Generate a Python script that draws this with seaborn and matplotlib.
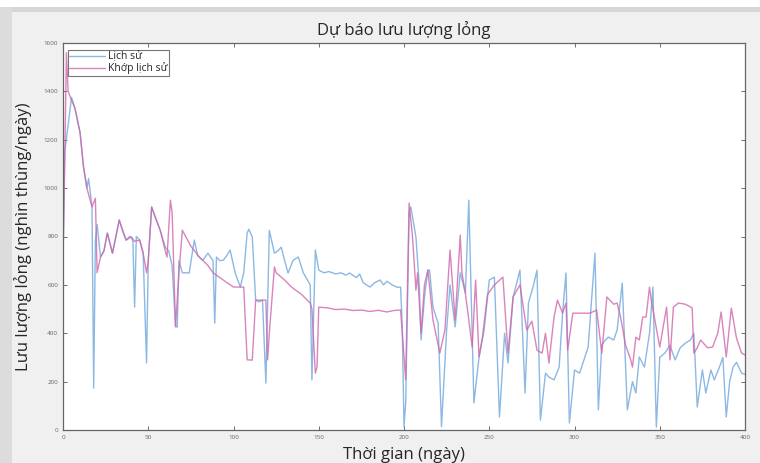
import matplotlib
matplotlib.use("Agg")
import matplotlib.pyplot as plt
from matplotlib.patches import Rectangle
import pandas as pd
import seaborn as sns

# Lịch sử (history) - breakpoints
hist_days = [0, 1, 3, 5, 7, 10, 12, 14, 15, 17, 18, 19, 20, 22, 24, 26, 28, 29, 31, 33,
             35, 37, 39, 40, 41, 42, 43, 45, 47, 49, 50, 52, 54, 57, 60, 62, 64, 66, 67, 68,
             70, 72, 74, 77, 79, 82, 85, 88, 89, 90, 92, 94, 96, 98, 101, 104, 106, 108, 109, 111,
             113, 115, 117, 119, 121, 124, 126, 128, 130, 132, 135, 138, 141, 145, 146, 148, 150, 153, 156, 160,
             163, 166, 168, 170, 172, 174, 176, 178, 180, 183, 186, 188, 190, 193, 196, 198, 199, 200, 201, 203,
             204, 207, 209, 210, 212, 214, 215, 217, 220, 222, 225, 227, 230, 233, 236, 238, 241, 244, 247, 250,
             253, 256, 259, 261, 264, 268, 271, 273, 276, 278, 280, 283, 285, 288, 291, 293, 295, 297, 300, 303,
             306, 308, 312, 314, 316, 318, 320, 323, 325, 328, 331, 334, 336, 338, 341, 344, 346, 348, 350, 353,
             356, 359, 362, 365, 368, 370, 372, 375, 377, 380, 382, 385, 387, 389, 391, 393, 395, 398, 400]
hist_vals = [700, 1150, 1260, 1375, 1330, 1230, 1090, 1000, 1040, 922, 173, 785, 850, 715, 740, 814, 760, 731, 800, 868,
             820, 785, 800, 798, 780, 508, 800, 785, 731, 277, 700, 922, 880, 826, 756, 740, 680, 430, 425, 700,
             650, 650, 649, 785, 720, 702, 731, 700, 442, 715, 700, 702, 720, 744, 649, 591, 650, 814, 830, 798,
             537, 530, 537, 194, 826, 731, 740, 756, 700, 649, 702, 715, 649, 600, 207, 744, 661, 650, 655, 645,
             650, 640, 649, 640, 630, 645, 610, 600, 591, 610, 620, 600, 615, 600, 590, 591, 420, 14, 112, 900,
             922, 798, 591, 372, 550, 661, 661, 508, 442, 14, 413, 600, 426, 650, 566, 950, 112, 300, 413, 620,
             632, 54, 400, 277, 550, 661, 153, 525, 600, 661, 41, 235, 219, 207, 260, 483, 649, 29, 248, 235,
             300, 343, 731, 83, 350, 372, 384, 372, 413, 607, 83, 200, 153, 302, 260, 400, 591, 12, 300, 318,
             350, 290, 340, 359, 372, 400, 95, 248, 153, 248, 207, 260, 300, 54, 200, 260, 280, 235, 230]

# Khớp lịch sử (history match)
fit_days = [0, 1, 2, 3, 5, 7, 10, 12, 14, 17, 18, 19, 20, 22, 24, 26, 29, 33, 37, 40,
            42, 45, 47, 49, 50, 52, 57, 60, 61, 63, 64, 66, 68, 70, 75, 80, 85, 88, 92, 96,
            100, 104, 106, 108, 111, 113, 117, 119, 120, 121, 124, 125, 130, 134, 140, 145, 146, 148, 149, 150,
            155, 160, 165, 170, 175, 180, 185, 190, 194, 198, 200, 201, 203, 205, 207, 208, 210, 212, 214, 217,
            221, 224, 227, 230, 233, 234, 236, 240, 242, 244, 246, 249, 253, 258, 261, 264, 268, 272, 275, 278,
            281, 283, 285, 288, 290, 293, 295, 296, 299, 303, 306, 309, 313, 316, 319, 323, 325, 327, 330, 333,
            334, 336, 338, 340, 342, 344, 345, 350, 354, 356, 358, 361, 365, 369, 370, 372, 374, 378, 381, 384,
            386, 389, 392, 395, 398, 400]
fit_vals = [700, 1100, 1560, 1400, 1364, 1330, 1230, 1090, 1000, 922, 940, 958, 650, 715, 740, 814, 731, 868, 785, 798,
            780, 785, 731, 650, 700, 922, 826, 740, 715, 950, 900, 426, 650, 826, 760, 715, 680, 650, 630, 610,
            591, 591, 591, 290, 289, 537, 537, 537, 290, 400, 674, 650, 620, 591, 560, 525, 500, 235, 260, 508,
            505, 498, 500, 494, 496, 490, 495, 488, 494, 496, 300, 207, 938, 799, 578, 649, 400, 600, 661, 455,
            318, 413, 744, 455, 806, 649, 566, 343, 620, 302, 384, 560, 600, 632, 318, 550, 600, 413, 450, 330,
            318, 400, 277, 467, 537, 483, 525, 330, 483, 483, 483, 483, 496, 318, 550, 520, 525, 467, 350, 290,
            260, 384, 372, 467, 467, 591, 537, 343, 508, 290, 508, 525, 520, 505, 318, 340, 372, 340, 343, 400,
            488, 302, 504, 380, 318, 310]

title = "Dự báo lưu lượng lỏng"
xlabel = "Thời gian (ngày)"
ylabel = "Lưu lượng lỏng (nghìn thùng/ngày)"
x_ticks = [0, 50, 100, 150, 200, 250, 300, 350, 400]
y_ticks = [0, 200, 400, 600, 800, 1000, 1200, 1400, 1600]

hist_df = pd.DataFrame({"day": hist_days, "value": hist_vals})
fit_df = pd.DataFrame({"day": fit_days, "value": fit_vals})

sns.set_style("ticks")
plt.rcParams["font.family"] = ["Open Sans", "DejaVu Sans"]

fig = plt.figure(figsize=(7.6, 4.63), dpi=100, facecolor="#f0f0f0")
# window frame strips (behind everything)
fig.patches.append(Rectangle((0, 1 - 7 / 463), 1, 7 / 463, transform=fig.transFigure,
                             facecolor="white", edgecolor="none", zorder=-5))
fig.patches.append(Rectangle((0, 1 - 12 / 463), 1, 5 / 463, transform=fig.transFigure,
                             facecolor="#d6d6d6", edgecolor="none", zorder=-5))
fig.patches.append(Rectangle((0, 0), 12 / 760, 1 - 7 / 463, transform=fig.transFigure,
                             facecolor="#dcdcdc", edgecolor="none", zorder=-5))

ax = fig.add_axes([63 / 760, 33 / 463, 682 / 760, 387 / 463])
ax.set_facecolor("white")

sns.lineplot(data=hist_df, x="day", y="value", ax=ax, color="#6fa7dc", linewidth=1.0,
             alpha=0.9, label="Lịch sử", estimator=None, sort=False)
sns.lineplot(data=fit_df, x="day", y="value", ax=ax, color="#d065aa", linewidth=1.0,
             alpha=0.75, label="Khớp lịch sử", estimator=None, sort=False)

ax.set_xlim(0, 400)
ax.set_ylim(0, 1600)
ax.set_xticks(x_ticks)
ax.set_yticks(y_ticks)
ax.tick_params(direction="in", top=True, right=True, length=3, width=0.6,
               labelsize=4.5, labelcolor="#666666", color="#555555")
for s in ax.spines.values():
    s.set_color("#666666")
    s.set_linewidth(0.9)

ax.set_title(title, fontsize=12, pad=6)
ax.set_xlabel(xlabel, fontsize=12, labelpad=5)
ax.set_ylabel(ylabel, fontsize=12, labelpad=8)

leg_handles, leg_labels = ax.get_legend_handles_labels()
for h in leg_handles:
    h.set_alpha(0.8)
leg = ax.legend(leg_handles, leg_labels, loc="upper left", bbox_to_anchor=(0.007, 0.982),
                borderaxespad=0, fontsize=7.5, frameon=True, fancybox=False,
                edgecolor="#555555", handlelength=3.4, handletextpad=0.3,
                borderpad=0.15, labelspacing=0.0)
leg.get_frame().set_linewidth(0.8)

fig.savefig("out.png", dpi=100, facecolor=fig.get_facecolor())
